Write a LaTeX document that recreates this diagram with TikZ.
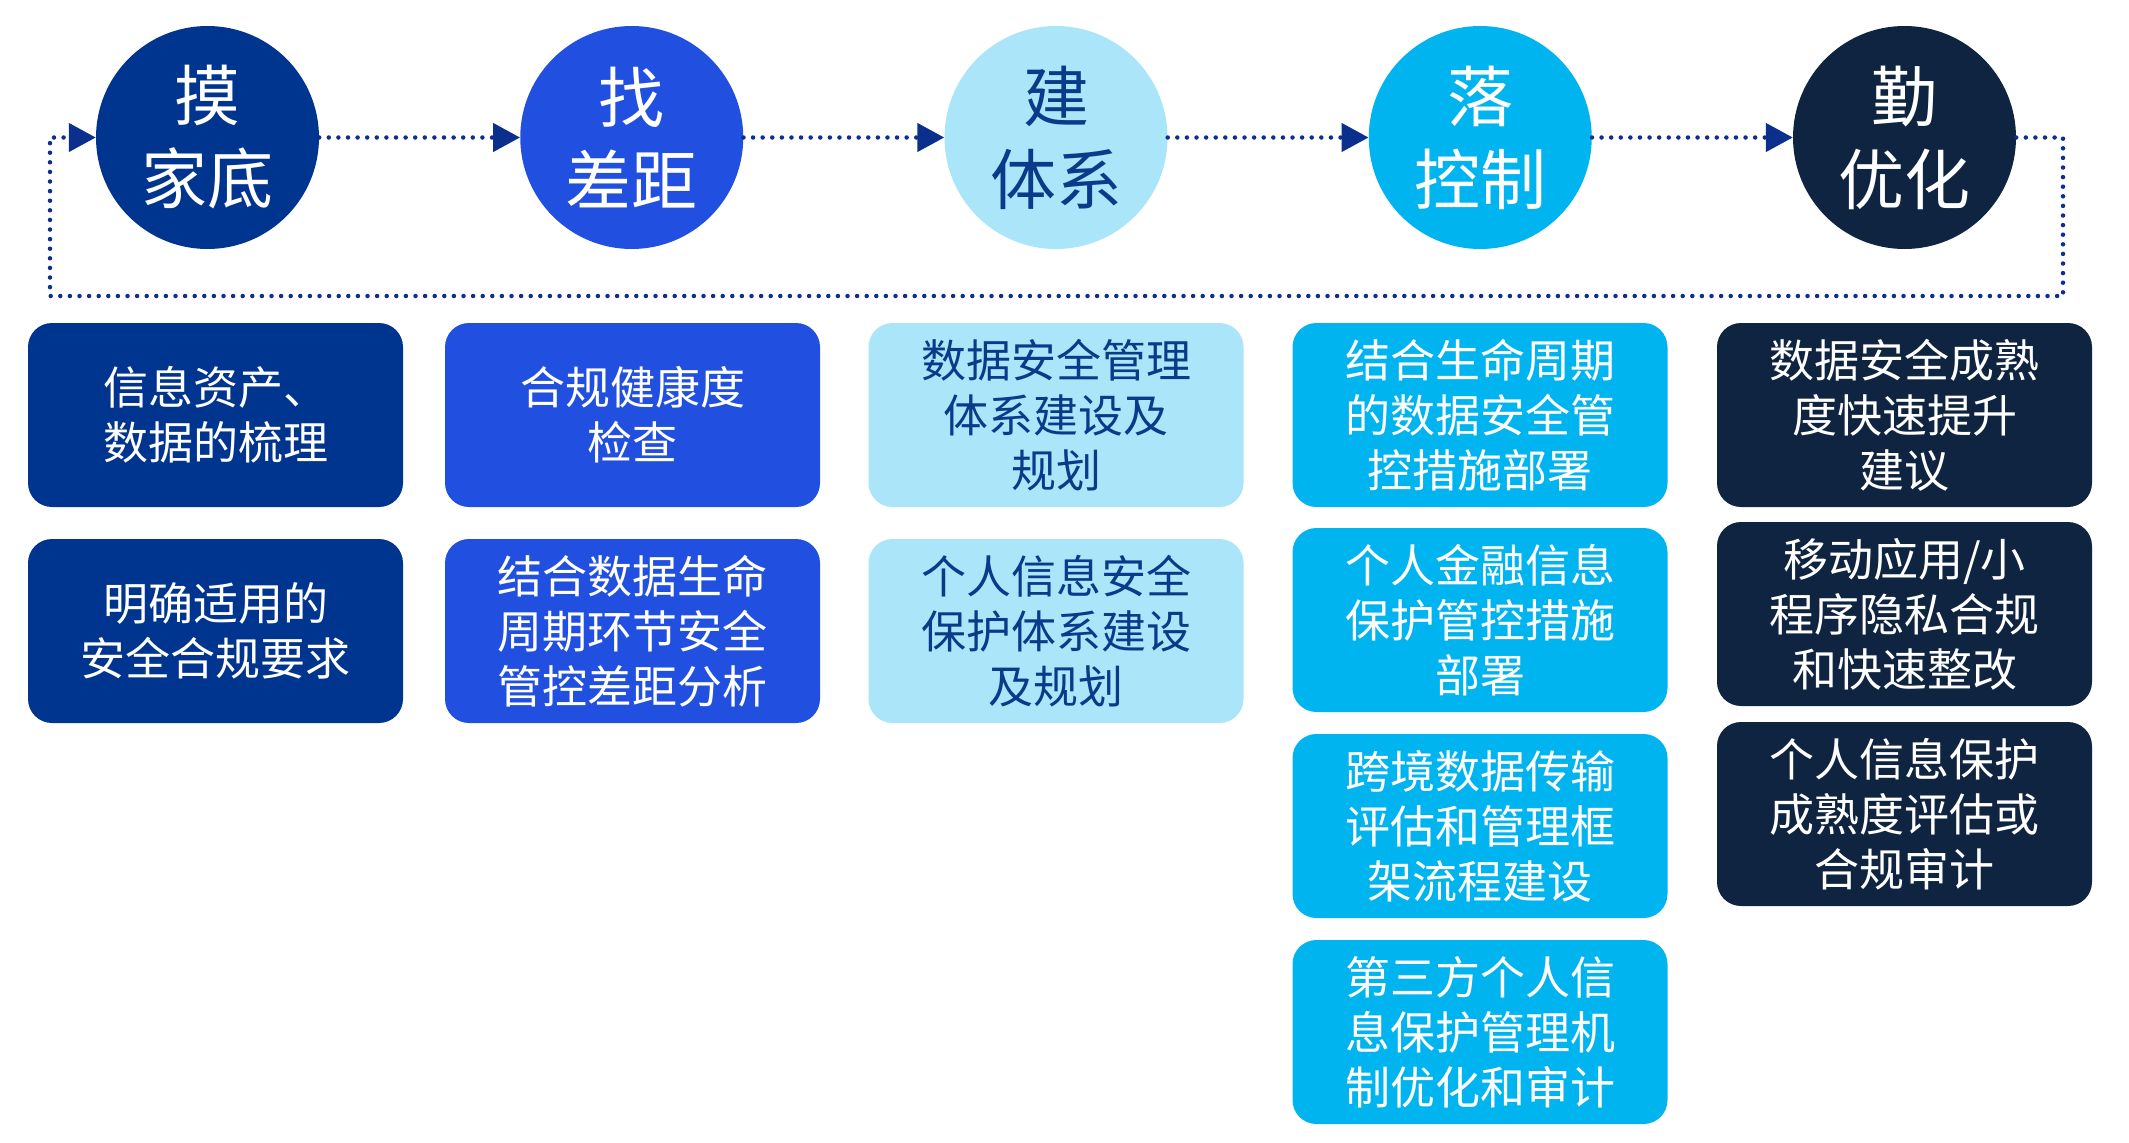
\documentclass[tikz,border=0pt]{standalone}
\usepackage{fontspec}
\setmainfont{Noto Sans CJK SC}
\usetikzlibrary{arrows.meta}
\definecolor{cA}{HTML}{00358F}
\definecolor{cB}{HTML}{2150E0}
\definecolor{cC}{HTML}{ABE5FA}
\definecolor{cD}{HTML}{00B4F0}
\definecolor{cE}{HTML}{0F2440}
\definecolor{txtC}{HTML}{0B3A8A}
\definecolor{lineC}{HTML}{0A2F8C}
\begin{document}
\begin{tikzpicture}[x=1pt,y=-1pt,
  stage/.style={circle,minimum size=223pt,inner sep=0pt,align=center,
    font=\fontsize{66}{83}\selectfont},
  item/.style={rounded corners=24pt,minimum width=375pt,minimum height=184pt,
    inner sep=0pt,align=center,font=\fontsize{45}{55}\selectfont},
  flow/.style={draw=lineC,line width=4.5pt,dash pattern=on 0pt off 9.6pt,
    line cap=round,-{Triangle[length=27pt,width=28pt]}}]
\useasboundingbox[fill=white] (0,0) rectangle (2129,1143);

% stages
\node[stage,fill=cA,text=white] (c1) at (207.5,137.5) {摸\\家底};
\node[stage,fill=cB,text=white] (c2) at (631.75,137.5) {找\\差距};
\node[stage,fill=cC,text=txtC] (c3) at (1056,137.5) {建\\体系};
\node[stage,fill=cD,text=white] (c4) at (1480.25,137.5) {落\\控制};
\node[stage,fill=cE,text=white] (c5) at (1904.5,137.5) {勤\\优化};

% connectors
\draw[flow] (c1.east) -- (c2.west);
\draw[flow] (c2.east) -- (c3.west);
\draw[flow] (c3.east) -- (c4.west);
\draw[flow] (c4.east) -- (c5.west);
\coordinate (r1) at (2063,137.5);
\coordinate (r2) at (2063,296);
\coordinate (l2) at (50,296);
\coordinate (l1) at (50,137.5);
\draw[flow] (c5.east) -- (r1) -- (r2) -- (l2) -- (l1) -- (c1.west);

% column 1
\node[item,fill=cA,text=white] (a1) at (215.5,415) {信息资产、\\数据的梳理};
\node[item,fill=cA,text=white] (a2) at (215.5,631) {明确适用的\\安全合规要求};
% column 2
\node[item,fill=cB,text=white] (b1) at (632.5,415) {合规健康度\\检查};
\node[item,fill=cB,text=white] (b2) at (632.5,631) {结合数据生命\\周期环节安全\\管控差距分析};
% column 3
\node[item,fill=cC,text=txtC] (d1) at (1056,415) {数据安全管理\\体系建设及\\规划};
\node[item,fill=cC,text=txtC] (d2) at (1056,631) {个人信息安全\\保护体系建设\\及规划};
% column 4
\node[item,fill=cD,text=white] (e1) at (1480,415) {结合生命周期\\的数据安全管\\控措施部署};
\node[item,fill=cD,text=white] (e2) at (1480,620) {个人金融信息\\保护管控措施\\部署};
\node[item,fill=cD,text=white] (e3) at (1480,826) {跨境数据传输\\评估和管理框\\架流程建设};
\node[item,fill=cD,text=white] (e4) at (1480,1032) {第三方个人信\\息保护管理机\\制优化和审计};
% column 5
\node[item,fill=cE,text=white] (f1) at (1904.5,415) {数据安全成熟\\度快速提升\\建议};
\node[item,fill=cE,text=white] (f2) at (1904.5,614) {移动应用/小\\程序隐私合规\\和快速整改};
\node[item,fill=cE,text=white] (f3) at (1904.5,814) {个人信息保护\\成熟度评估或\\合规审计};
\end{tikzpicture}
\end{document}
